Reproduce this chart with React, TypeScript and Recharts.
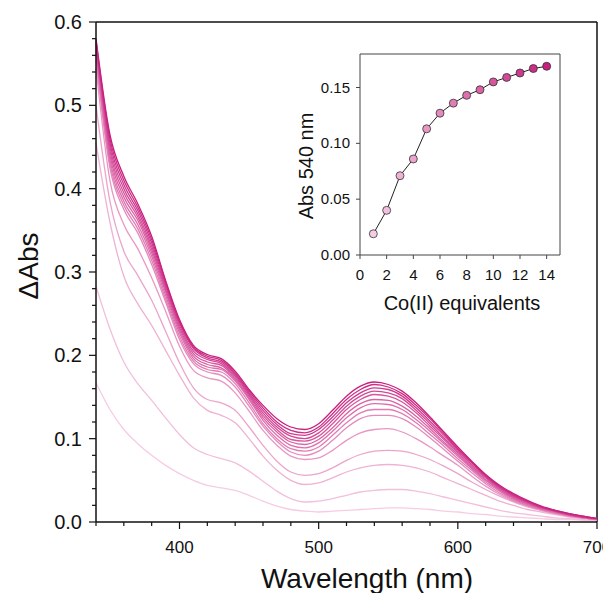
import { Label, Line, LineChart, ReferenceLine, XAxis, YAxis } from "recharts";

const FONT = '"Liberation Sans", Arial, Helvetica, sans-serif';

const WAVELENGTHS = [
  340, 350, 360, 370, 380, 390, 400, 410, 420, 430, 440, 450, 460, 470, 480, 490, 500, 510, 520,
  530, 540, 550, 560, 570, 580, 590, 600, 610, 620, 630, 640, 650, 660, 670, 680, 690, 700,
];

// difference spectra, one per Co(II) addition
const EQ1 = [0.167, 0.135, 0.111, 0.094, 0.08, 0.068, 0.058, 0.05, 0.044, 0.041, 0.038, 0.032, 0.025, 0.019, 0.015, 0.013, 0.012, 0.013, 0.014, 0.015, 0.016, 0.017, 0.017, 0.016, 0.015, 0.013, 0.012, 0.01, 0.009, 0.007, 0.006, 0.005, 0.004, 0.003, 0.003, 0.002, 0.002];
const EQ2 = [0.283, 0.232, 0.192, 0.166, 0.146, 0.125, 0.105, 0.089, 0.081, 0.076, 0.071, 0.061, 0.049, 0.037, 0.028, 0.024, 0.025, 0.028, 0.032, 0.036, 0.038, 0.039, 0.039, 0.037, 0.034, 0.03, 0.026, 0.022, 0.018, 0.014, 0.011, 0.009, 0.007, 0.005, 0.004, 0.003, 0.002];
const EQ3 = [0.455, 0.36, 0.295, 0.262, 0.236, 0.206, 0.176, 0.149, 0.134, 0.128, 0.119, 0.1, 0.079, 0.062, 0.05, 0.045, 0.047, 0.053, 0.06, 0.065, 0.068, 0.069, 0.068, 0.065, 0.06, 0.053, 0.046, 0.039, 0.032, 0.025, 0.02, 0.015, 0.012, 0.009, 0.006, 0.004, 0.003];
const EQ4 = [0.5, 0.385, 0.325, 0.296, 0.266, 0.229, 0.191, 0.161, 0.147, 0.143, 0.134, 0.114, 0.092, 0.073, 0.06, 0.056, 0.058, 0.065, 0.074, 0.081, 0.085, 0.086, 0.085, 0.081, 0.075, 0.067, 0.058, 0.048, 0.039, 0.031, 0.024, 0.018, 0.014, 0.01, 0.007, 0.005, 0.003];
const EQ5 = [0.545, 0.41, 0.357, 0.328, 0.293, 0.253, 0.211, 0.182, 0.173, 0.169, 0.155, 0.133, 0.11, 0.092, 0.079, 0.075, 0.077, 0.086, 0.098, 0.107, 0.111, 0.112, 0.108, 0.1, 0.09, 0.079, 0.068, 0.055, 0.043, 0.033, 0.025, 0.019, 0.014, 0.01, 0.007, 0.005, 0.003];
const EQ6 = [0.555, 0.425, 0.375, 0.347, 0.309, 0.264, 0.219, 0.19, 0.18, 0.176, 0.162, 0.139, 0.115, 0.097, 0.084, 0.08, 0.085, 0.098, 0.113, 0.124, 0.128, 0.128, 0.124, 0.114, 0.101, 0.087, 0.073, 0.059, 0.046, 0.035, 0.026, 0.02, 0.015, 0.011, 0.007, 0.005, 0.003];
const EQ7 = [0.56, 0.43, 0.38, 0.352, 0.314, 0.268, 0.223, 0.193, 0.183, 0.18, 0.166, 0.143, 0.118, 0.1, 0.088, 0.085, 0.09, 0.104, 0.119, 0.131, 0.135, 0.135, 0.13, 0.119, 0.105, 0.091, 0.076, 0.062, 0.048, 0.037, 0.027, 0.02, 0.015, 0.011, 0.008, 0.005, 0.003];
const EQ8 = [0.565, 0.435, 0.385, 0.357, 0.319, 0.272, 0.227, 0.196, 0.186, 0.183, 0.169, 0.147, 0.122, 0.104, 0.092, 0.089, 0.095, 0.109, 0.125, 0.137, 0.142, 0.141, 0.135, 0.123, 0.109, 0.094, 0.079, 0.064, 0.05, 0.038, 0.028, 0.021, 0.016, 0.012, 0.008, 0.005, 0.003];
const EQ9 = [0.568, 0.44, 0.39, 0.362, 0.323, 0.276, 0.23, 0.199, 0.189, 0.185, 0.171, 0.149, 0.125, 0.108, 0.096, 0.093, 0.099, 0.113, 0.13, 0.142, 0.147, 0.146, 0.139, 0.127, 0.112, 0.096, 0.081, 0.065, 0.051, 0.039, 0.029, 0.022, 0.016, 0.012, 0.008, 0.006, 0.004];
const EQ10 = [0.571, 0.445, 0.395, 0.366, 0.327, 0.279, 0.233, 0.202, 0.192, 0.188, 0.173, 0.151, 0.128, 0.111, 0.099, 0.097, 0.103, 0.118, 0.135, 0.147, 0.153, 0.151, 0.144, 0.131, 0.115, 0.099, 0.083, 0.067, 0.053, 0.04, 0.03, 0.023, 0.017, 0.013, 0.009, 0.006, 0.004];
const EQ11 = [0.574, 0.45, 0.4, 0.37, 0.331, 0.282, 0.236, 0.205, 0.195, 0.19, 0.175, 0.153, 0.131, 0.114, 0.103, 0.1, 0.107, 0.122, 0.139, 0.151, 0.157, 0.155, 0.148, 0.134, 0.118, 0.101, 0.085, 0.069, 0.054, 0.041, 0.031, 0.024, 0.017, 0.013, 0.009, 0.006, 0.004];
const EQ12 = [0.576, 0.455, 0.405, 0.374, 0.335, 0.285, 0.239, 0.208, 0.197, 0.192, 0.177, 0.155, 0.134, 0.117, 0.106, 0.104, 0.111, 0.126, 0.143, 0.155, 0.161, 0.159, 0.151, 0.137, 0.121, 0.104, 0.087, 0.071, 0.055, 0.042, 0.032, 0.024, 0.018, 0.013, 0.009, 0.006, 0.004];
const EQ13 = [0.578, 0.46, 0.41, 0.378, 0.339, 0.288, 0.241, 0.21, 0.199, 0.194, 0.179, 0.157, 0.137, 0.12, 0.11, 0.107, 0.114, 0.13, 0.147, 0.159, 0.165, 0.162, 0.154, 0.14, 0.124, 0.106, 0.088, 0.072, 0.056, 0.043, 0.033, 0.025, 0.018, 0.014, 0.01, 0.007, 0.004];
const EQ14 = [0.58, 0.465, 0.415, 0.382, 0.343, 0.29, 0.243, 0.212, 0.201, 0.196, 0.181, 0.159, 0.14, 0.124, 0.114, 0.111, 0.118, 0.134, 0.151, 0.163, 0.168, 0.165, 0.157, 0.143, 0.126, 0.108, 0.09, 0.073, 0.057, 0.044, 0.034, 0.026, 0.019, 0.014, 0.01, 0.007, 0.004];

const SPECTRA = [EQ1, EQ2, EQ3, EQ4, EQ5, EQ6, EQ7, EQ8, EQ9, EQ10, EQ11, EQ12, EQ13, EQ14];

// inset titration
const EQUIVALENTS = [1, 2, 3, 4, 5, 6, 7, 8, 9, 10, 11, 12, 13, 14];
const ABS_540 = [0.019, 0.04, 0.071, 0.086, 0.113, 0.127, 0.136, 0.143, 0.148, 0.155, 0.159, 0.163, 0.167, 0.169];

const MAIN_X_TICKS = [340, 360, 380, 400, 420, 440, 460, 480, 500, 520, 540, 560, 580, 600, 620, 640, 660, 680, 700];
const MAIN_Y_TICKS = [
  0, 0.02, 0.04, 0.06, 0.08, 0.1, 0.12, 0.14, 0.16, 0.18, 0.2, 0.22, 0.24, 0.26, 0.28, 0.3,
  0.32, 0.34, 0.36, 0.38, 0.4, 0.42, 0.44, 0.46, 0.48, 0.5, 0.52, 0.54, 0.56, 0.58, 0.6,
];
const INSET_X_TICKS = [0, 2, 4, 6, 8, 10, 12, 14];
const INSET_Y_TICKS = [0, 0.05, 0.1, 0.15];

const rows = WAVELENGTHS.map((wl, i) => {
  const row: Record<string, number> = { wl };
  SPECTRA.forEach((s, k) => {
    row[`eq${k + 1}`] = s[i];
  });
  return row;
});

const insetRows = EQUIVALENTS.map((eq, i) => ({ eq, abs: ABS_540[i] }));

// light pink -> magenta
function shade(i: number, n: number) {
  const t = i / (n - 1);
  const from = [246, 204, 228];
  const to = [200, 32, 126];
  const c = from.map((f, k) => Math.round(f + (to[k] - f) * t));
  return `rgb(${c[0]},${c[1]},${c[2]})`;
}

const isTenth = (v: number) => Math.abs(v * 10 - Math.round(v * 10)) < 1e-6;

function MainXTick({ x, y, payload }: any) {
  const major = payload.value % 100 === 0;
  return (
    <g>
      <line x1={x} y1={y} x2={x} y2={y + (major ? 7 : 4)} stroke="#111" strokeWidth={1.2} />
      {major && (
        <text x={x} y={y + 31} textAnchor="middle" fontSize={17} fontFamily={FONT} fill="#111">
          {payload.value}
        </text>
      )}
    </g>
  );
}

function MainYTick({ x, y, payload }: any) {
  const major = isTenth(payload.value);
  return (
    <g>
      <line x1={x - (major ? 7 : 4)} y1={y} x2={x} y2={y} stroke="#111" strokeWidth={1.2} />
      {major && (
        <text x={x - 14} y={y + 7} textAnchor="end" fontSize={20} fontFamily={FONT} fill="#111">
          {payload.value.toFixed(1)}
        </text>
      )}
    </g>
  );
}

function InsetXTick({ x, y, payload }: any) {
  return (
    <g>
      <line x1={x} y1={y} x2={x} y2={y + 4} stroke="#444" strokeWidth={1} />
      <text x={x} y={y + 25} textAnchor="middle" fontSize={15} fontFamily={FONT} fill="#111">
        {payload.value}
      </text>
    </g>
  );
}

function InsetYTick({ x, y, payload }: any) {
  return (
    <g>
      <line x1={x - 4} y1={y} x2={x} y2={y} stroke="#444" strokeWidth={1} />
      <text x={x - 10} y={y + 5} textAnchor="end" fontSize={15} fontFamily={FONT} fill="#111">
        {payload.value.toFixed(2)}
      </text>
    </g>
  );
}

export default function App() {
  return (
    <div style={{ position: "relative", width: 603, height: 585, background: "#fff" }}>
      <LineChart
        width={603}
        height={585}
        data={rows}
        margin={{ top: 14, right: 14, left: 0, bottom: 0 }}
      >
        <XAxis
          dataKey="wl"
          type="number"
          domain={[340, 700]}
          ticks={MAIN_X_TICKS}
          interval={0}
          height={71}
          tickSize={0}
          tickMargin={0}
          tickLine={false}
          tick={(p: any) => <MainXTick {...p} />}
          axisLine={{ stroke: "#111", strokeWidth: 1.5 }}
        >
          <Label
            content={() => (
              <text x={359} y={580} textAnchor="middle" fontSize={28} fontFamily={FONT} fill="#111">
                Wavelength (nm)
              </text>
            )}
          />
        </XAxis>
        <YAxis
          type="number"
          domain={[0, 0.6]}
          ticks={MAIN_Y_TICKS}
          interval={0}
          width={88}
          tickSize={0}
          tickMargin={0}
          tickLine={false}
          tick={(p: any) => <MainYTick {...p} />}
          axisLine={{ stroke: "#111", strokeWidth: 1.5 }}
        >
          <Label
            content={() => (
              <text
                x={20}
                y={258}
                transform="rotate(-90, 20, 258)"
                textAnchor="middle"
                dominantBaseline="central"
                fontSize={28}
                fontFamily={FONT}
                fill="#111"
              >
                ΔAbs
              </text>
            )}
          />
        </YAxis>
        <ReferenceLine y={0.6} stroke="#111" strokeWidth={1.5} />
        <ReferenceLine x={700} stroke="#111" strokeWidth={1.5} />
        {SPECTRA.map((_, k) => (
          <Line
            key={k}
            dataKey={`eq${k + 1}`}
            type="monotone"
            stroke={shade(k, SPECTRA.length)}
            strokeWidth={1.3}
            dot={false}
            isAnimationActive={false}
          />
        ))}
      </LineChart>

      <div style={{ position: "absolute", left: 262, top: 30 }}>
        <LineChart
          width={310}
          height={300}
          data={insetRows}
          margin={{ top: 16, right: 20, left: 0, bottom: 0 }}
        >
          <XAxis
            dataKey="eq"
            type="number"
            domain={[0, 15]}
            ticks={INSET_X_TICKS}
            interval={0}
            height={83}
            tickSize={0}
            tickMargin={0}
            tickLine={false}
            tick={(p: any) => <InsetXTick {...p} />}
            axisLine={{ stroke: "#444", strokeWidth: 1 }}
          >
            <Label
              content={() => (
                <text x={192} y={272} textAnchor="middle" fontSize={20} fontFamily={FONT} fill="#111">
                  Co(II) equivalents
                </text>
              )}
            />
          </XAxis>
          <YAxis
            type="number"
            domain={[0, 0.18]}
            ticks={INSET_Y_TICKS}
            interval={0}
            width={90}
            tickSize={0}
            tickMargin={0}
            tickLine={false}
            tick={(p: any) => <InsetYTick {...p} />}
            axisLine={{ stroke: "#444", strokeWidth: 1 }}
          >
            <Label
              content={() => (
                <text
                  x={36}
                  y={128}
                  transform="rotate(-90, 36, 128)"
                  textAnchor="middle"
                  dominantBaseline="central"
                  fontSize={20}
                  fontFamily={FONT}
                  fill="#111"
                >
                  Abs 540 nm
                </text>
              )}
            />
          </YAxis>
          <ReferenceLine y={0.18} stroke="#444" strokeWidth={1} />
          <ReferenceLine x={15} stroke="#444" strokeWidth={1} />
          <Line
            dataKey="abs"
            type="linear"
            stroke="#222"
            strokeWidth={1}
            isAnimationActive={false}
            dot={(p: any) => (
              <circle
                key={p.index}
                cx={p.cx}
                cy={p.cy}
                r={4}
                fill={shade(p.index, EQUIVALENTS.length)}
                stroke="#333"
                strokeWidth={0.8}
              />
            )}
          />
        </LineChart>
      </div>
    </div>
  );
}
